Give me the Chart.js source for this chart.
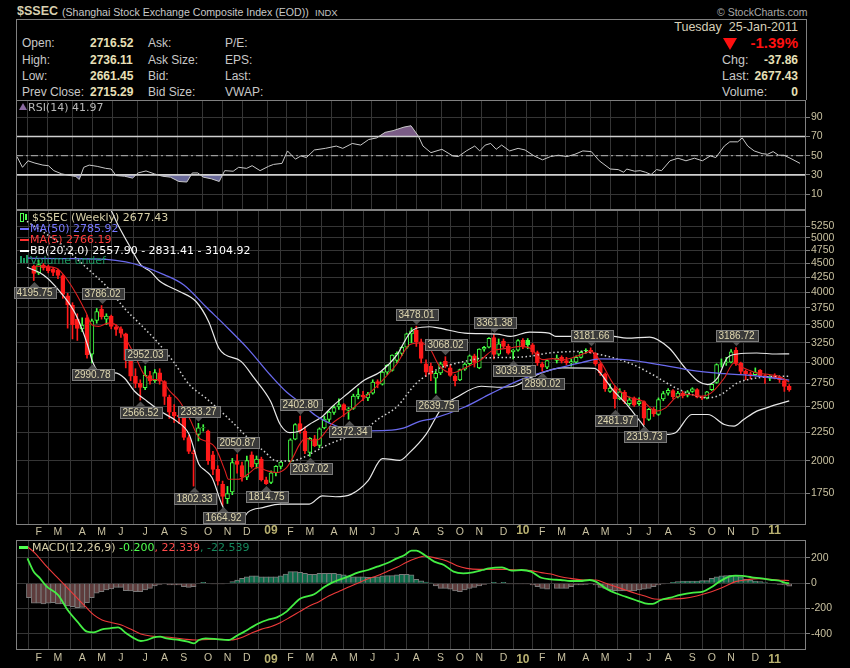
<!DOCTYPE html>
<html>
<head>
<meta charset="utf-8">
<script src="https://cdn.jsdelivr.net/npm/chart.js@4.4.0/dist/chart.umd.min.js"></script>
<style>
  body { margin:0; background:#000; width:850px; height:668px; overflow:hidden; position:relative;
         font-family:'Liberation Sans', Arial, sans-serif; }
  canvas { position:absolute; left:0; }
  .t { position:absolute; white-space:nowrap; line-height:14px; }
  .lbl { color:#c8c8c8; font-size:12px; }
  .val { color:#e8e0b8; font-size:12px; font-weight:bold; }
  .lg { position:absolute; white-space:nowrap; font-family:'DejaVu Sans', sans-serif; font-size:11px; line-height:11px; }
  #box { position:absolute; left:16px; top:19px; width:789px; height:80px; border:1px solid #808080; border-bottom:none; }
</style>
</head>
<body>
<div id="box"></div>
<div class="t" style="left:17px;top:4px;color:#d8d0b0;font-size:12.5px;font-weight:bold;">$SSEC</div>
<div class="t" style="left:62px;top:5px;color:#c8c8c8;font-size:10.6px;">(Shanghai Stock Exchange Composite Index (EOD))</div>
<div class="t" style="left:315px;top:6px;color:#c0c0c0;font-size:9.5px;">INDX</div>
<div class="t" style="left:717px;top:5px;color:#a8a8a8;font-size:10.5px;">© StockCharts.com</div>

<div class="t lbl" style="left:22px;top:36px;">Open:</div>
<div class="t lbl" style="left:22px;top:53px;">High:</div>
<div class="t lbl" style="left:22px;top:69px;">Low:</div>
<div class="t lbl" style="left:22px;top:85px;">Prev Close:</div>
<div class="t val" style="left:90px;top:36px;">2716.52</div>
<div class="t val" style="left:90px;top:53px;">2736.11</div>
<div class="t val" style="left:90px;top:69px;">2661.45</div>
<div class="t val" style="left:90px;top:85px;">2715.29</div>
<div class="t lbl" style="left:148px;top:36px;">Ask:</div>
<div class="t lbl" style="left:148px;top:53px;">Ask Size:</div>
<div class="t lbl" style="left:148px;top:69px;">Bid:</div>
<div class="t lbl" style="left:148px;top:85px;">Bid Size:</div>
<div class="t lbl" style="left:225px;top:36px;">P/E:</div>
<div class="t lbl" style="left:225px;top:53px;">EPS:</div>
<div class="t lbl" style="left:225px;top:69px;">Last:</div>
<div class="t lbl" style="left:225px;top:85px;">VWAP:</div>

<div class="t" style="right:52px;top:20px;color:#d8d0b8;font-size:12.5px;">Tuesday&nbsp; 25-Jan-2011</div>
<div style="position:absolute;left:723px;top:38px;width:0;height:0;border-left:7px solid transparent;border-right:7px solid transparent;border-top:12px solid #ff1010;"></div>
<div class="t" style="right:52px;top:36px;color:#ff1010;font-size:15px;font-weight:bold;">-1.39%</div>
<div class="t lbl" style="left:722px;top:53px;font-size:12.5px;">Chg:</div>
<div class="t lbl" style="left:722px;top:69px;font-size:12.5px;">Last:</div>
<div class="t lbl" style="left:722px;top:85px;font-size:12.5px;">Volume:</div>
<div class="t val" style="right:52px;top:53px;">-37.86</div>
<div class="t val" style="right:52px;top:69px;">2677.43</div>
<div class="t val" style="right:52px;top:85px;">0</div>

<canvas id="rsi" width="850" height="110" style="top:100px"></canvas>
<canvas id="main" width="850" height="315" style="top:210px"></canvas>
<canvas id="macd" width="850" height="143" style="top:525px"></canvas>

<div style="position:absolute;left:19px;top:103px;width:0;height:0;border-left:4px solid transparent;border-right:4px solid transparent;border-bottom:7px solid #8a6aa0;"></div>
<div class="lg" style="left:28px;top:102px;color:#b8b8b8;">RSI(14) 41.97</div>

<div style="position:absolute;left:20px;top:213px;width:2px;height:7px;border:1px solid #50ff50;"></div>
<div style="position:absolute;left:25px;top:214px;width:2px;height:6px;background:#50ff50;"></div>
<div class="lg" style="left:32px;top:212px;color:#d8d0a8;">$SSEC (Weekly) 2677.43</div>
<div style="position:absolute;left:20px;top:228px;width:9px;height:2px;background:#7070ff;"></div>
<div class="lg" style="left:30px;top:223px;color:#7777ff;">MA(50) 2785.92</div>
<div style="position:absolute;left:20px;top:239px;width:9px;height:2px;background:#ff3030;"></div>
<div class="lg" style="left:30px;top:234px;color:#ff3a3a;">MA(5) 2766.19</div>
<div style="position:absolute;left:20px;top:250px;width:9px;height:2px;background:#ffffff;"></div>
<div class="lg" style="left:30px;top:245px;color:#ffffff;">BB(20,2.0) 2557.90 - 2831.41 - 3104.92</div>
<div style="position:absolute;left:20px;top:256px;width:2px;height:7px;background:#1a9a60;"></div>
<div style="position:absolute;left:23px;top:258px;width:2px;height:5px;background:#1a9a60;"></div>
<div style="position:absolute;left:26px;top:255px;width:2px;height:8px;background:#1a9a60;"></div>
<div class="lg" style="left:30px;top:255px;color:#1a9a60;">Volume undef</div>

<div style="position:absolute;left:19px;top:546px;width:9px;height:3px;background:#50ff50;"></div>
<div class="lg" style="left:32px;top:542px;color:#d8d0a8;">MACD(12,26,9) <span style="color:#50ff50">-0.200</span><span style="color:#ff4a4a">, 22.339</span><span style="color:#14885c">, -22.539</span></div>

<script>
// ---- weekly candles, index 0 = week of 28-Jan-2008 ----
var OPEN = [4450,4330,4470,4440,4400,4380,4280,3940,3790,3580,3440,3600,3100,3560,3730,3580,3620,3470,3440,3370,
  3010,2830,2750,2700,2840,2780,2870,2770,2600,2440,2410,2390,2200,2060,2230,2290,2260,2050,1930,1815,
  1712,1760,1995,1960,1870,2050,1975,2015,1850,1830,1905,1955,null,1995,2185,2330,2260,2070,2190,2130,
  2290,2370,2440,2495,2520,2460,2480,2605,2620,2590,2640,2770,2740,2880,2900,3020,3110,3190,3370,3420,
  3260,2980,2950,2810,2870,3010,2930,2830,2790,2915,2980,3080,2930,3165,3190,3320,3100,3270,3200,3130,
  3150,3280,3280,3220,3120,2980,2940,null,3020,3060,3020,2990,3000,3060,3150,3150,3110,2980,2860,2660,
  2690,2580,2650,2530,2590,2530,2550,2370,2470,2420,2580,2640,2670,2600,2640,2620,2660,2680,2600,2590,
  2680,2760,2980,2995,3000,3150,2990,2890,2860,2850,2905,2840,2810,2840,2820,2780,2716.52];
var HIGH = [4470,4560,4500,4470,4430,4400,4300,3980,3830,3660,3600,3640,3580,3740,3786.02,3660,3640,3500,3470,3380,
  3050,2920,2790,2952.03,2890,2910,2920,2780,2620,2520,2450,2400,2220,2090,2333.27,2320,2270,2080,1960,1840,
  1800,2020,2050.87,1990,2040,2075,2040,2030,1870,1920,1960,1995,null,2190,2330,2402.80,2300,2200,2220,2290,
  2400,2450,2510,2580,2530,2490,2630,2690,2660,2650,2790,2790,2890,2970,3090,3130,3200,3380,3455,3478.01,
  3300,3030,2990,2890,3000,3068.02,2970,2850,2915,2990,3090,3100,3170,3200,3320,3361.38,3300,3300,3230,3160,
  3290,3306,3306,3240,3140,3000,3030,null,3090,3080,3060,3040,3080,3140,3170,3181.66,3120,2990,2870,2740,
  2720,2690,2670,2600,2600,2590,2560,2480,2490,2590,2660,2690,2680,2660,2660,2670,2700,2690,2610,2660,
  2740,2980,3040,3060,3160,3186.72,3000,2905,2880,2930,2910,2850,2840,2860,2830,2790,2736.11];
var LOW = [4195.75,4300,4380,4330,4280,4230,3900,3450,3300,3280,3400,3050,2990.78,3520,3580,3500,3440,3350,3320,2930,
  2780,2700,2566.52,2680,2740,2760,2740,2520,2380,2340,2330,2180,2060,1802.33,2170,2260,1970,1890,1810,1664.92,
  1678,1740,1900,1840,1850,1940,1940,1840,1814.75,1820,1880,1935,null,1990,2180,2240,2060,2037.02,2120,2110,
  2280,2350,2420,2470,2400,2372.34,2470,2580,2560,2560,2630,2700,2730,2850,2890,2990,3080,3170,3250,3200,
  2990,2830,2780,2639.75,2850,2930,2830,2720,2780,2900,2960,2940,2920,3140,3180,3040,3080,3180,3100,3039.85,
  3140,3170,3170,3100,2960,2890.02,2920,null,2990,2990,2970,2950,2980,3050,3110,3110,2960,2840,2660,2650,
  2481.97,2570,2530,2510,2500,2510,2319.73,2360,2400,2410,2560,2620,2580,2590,2590,2600,2650,2590,2570,2580,
  2670,2750,2940,2960,2990,2960,2850,2790,2800,2840,2830,2750,2780,2800,2760,2660,2661.45];
var CLOSE = [4320,4480,4420,4370,4340,4285,3962,3796,3500,3446,3492,3094,3557,3693,3613,3624,3473,3433,3379,3024,
  2831,2748,2703,2841,2776,2874,2775,2605,2443,2405,2397,2202,2079,2075,2290,2293,2000,1930,1839,1728,
  1747,1986,1970,1871,2002,1950,2015,1850,1821,1904,1954,1990,null,2181,2320,2261,2082,2193,2128,2281,
  2374,2444,2490,2520,2463,2477,2610,2625,2600,2632,2765,2743,2880,2960,3088,3110,3189,3372,3412,3261,
  3046,2880,2860,2865,2980,2950,2840,2779,2911,2976,3080,2996,3164,3187,3308,3096,3235,3200,3113,3154,
  3277,3196,3224,3128,2989,2939,3018,null,3051,3013,2993,3006,3059,3122,3142,3130,2979,2870,2688,2696,
  2583,2655,2553,2569,2514,2552,2382,2470,2424,2572,2637,2672,2604,2642,2610,2655,2688,2598,2588,2655,
  2738,2971,2975,3005,3129,2985,2888,2860,2842,2880,2830,2820,2830,2810,2791,2715,2677.43];

// ---- overlays: [week index, value] ----
var MA50 = [[-1.4,4600],[0,4597],[8,4590],[15,4578],[19,4530],[22,4460],[27,4295],[31,4120],[35.5,3770],[39.5,3490],
  [44.2,3172],[48.9,2842],[52.2,2653],[54.9,2546],[58.2,2410],[62.2,2312],[64.9,2275],[67.6,2262],[73,2266],[76.3,2287],
  [79.7,2352],[82.3,2377],[89,2495],[94.4,2636],[101.1,2803],[107.8,2921],[113.1,2995],[117.1,3040],[122.5,3027],
  [129.2,2970],[135.9,2900],[142.6,2861],[149.3,2834],[156,2786]];
var MA5 = [[0,4450],[2,4444],[4.7,4413],[6.7,4236],[8.7,3983],[10.7,3694],[12,3498],[13.4,3475],[15.4,3522],[17.4,3475],
  [18.7,3335],[20.8,3094],[22.8,2850],[24.8,2792],[26.1,2792],[28.1,2662],[30.1,2555],[32.1,2387],[34.1,2199],[35.5,2169],
  [37.5,2111],[39.5,1919],[40.2,1854],[42.2,1854],[44.2,1893],[46.2,1945],[48.2,1919],[50.2,1906],[52.2,1945],[53.5,2026],
  [54.9,2140],[56.2,2199],[57.6,2169],[58.9,2184],[60.9,2291],[61.6,2330],[63.6,2400],[65.6,2470],[68.3,2590],[71.6,2760],
  [75,2980],[77.6,3223],[79.6,3245],[81.7,3180],[83.7,2960],[86.3,2870],[89,2929],[92.4,3031],[94.4,3136],[95.7,3158],
  [98.4,3179],[100.4,3201],[102.4,3179],[105.1,3031],[107.1,3044],[109.1,3031],[111.1,3052],[113.1,3094],[115.1,3136],
  [117.1,3000],[119.8,2736],[122.5,2608],[125.8,2555],[128.5,2453],[130.5,2486],[132.5,2590],[135.2,2626],[137.9,2608],
  [139.9,2644],[142.6,2811],[144.6,2990],[146.6,2929],[149.3,2870],[151.9,2850],[153.9,2830],[156,2766]];
var BB_UP = [[-1.4,6900],[5,6600],[10,6200],[14,5800],[15.7,5650],[17.4,5272],[20,4800],[22.1,4474],[24.1,4353],[26.1,4178],
  [30.1,4010],[33.5,3849],[36.1,3546],[38.2,3179],[39.5,3094],[42.8,3010],[45.5,2811],[48.9,2555],[50.9,2322],[52.9,2245],
  [54.9,2260],[56.9,2322],[59.6,2400],[61.6,2498],[64.9,2640],[68.3,2788],[71.6,2884],[75,3090],[77.6,3378],[79,3448],
  [81.7,3470],[83.7,3450],[89,3381],[95.7,3367],[98.4,3335],[102.4,3395],[106.4,3381],[107.8,3335],[113.1,3335],[115.8,3358],
  [119.8,3335],[122.5,3312],[127.2,3326],[131.2,3179],[134.5,2929],[137.2,2773],[139.2,2736],[141.2,2811],[143.2,3052],
  [145.3,3102],[149.3,3115],[153.3,3102],[156,3105]];
var BB_MID = [[-1.4,5350],[3,5050],[6,4850],[8.5,4620],[11.4,4383],[15.4,4065],[18.7,3745],[22.1,3498],[25.4,3267],[28.8,3010],
  [32.1,2736],[35.5,2590],[38.2,2470],[40.8,2354],[44.2,2199],[47.5,2082],[50.2,1999],[52.9,1999],[55.6,2026],[58.2,2082],
  [60.9,2140],[64.3,2199],[68.3,2270],[71,2370],[75,2498],[79,2750],[83.7,2924],[86.5,2975],[89,3010],[93,3052],
  [99.1,3060],[102.4,3073],[106.4,3115],[109.1,3128],[113.1,3136],[115.8,3110],[119.8,3052],[123.8,2969],[127.8,2850],
  [131.9,2717],[135.9,2626],[139.2,2590],[141.9,2626],[145.3,2754],[149.3,2811],[153.3,2830],[156,2831]];
var BB_LOW = [[-1.4,4430],[2,4294],[5.4,4010],[8.7,3644],[11.1,3223],[12.1,3010],[14.1,2830],[15.4,2811],[16.7,2870],[18.7,2811],
  [20.8,2662],[23.4,2555],[26.1,2453],[29.5,2354],[32.1,2229],[34.1,1972],[35.5,1919],[36.8,1867],[38.8,1674],[39.5,1628],
  [41,1530],[42.2,1530],[44.2,1618],[47.5,1651],[50.9,1674],[56.9,1674],[59.6,1732],[62.3,1725],[65.6,1744],[69,1842],
  [72,2018],[75.6,2004],[77.6,2068],[81,2229],[84.3,2486],[87.7,2608],[92.4,2717],[95.7,2706],[99.1,2717],[102.4,2811],
  [105.8,2889],[109.1,2929],[115.8,2925],[118.5,2754],[119.8,2662],[122.5,2520],[125.2,2354],[127.8,2229],[130.5,2229],
  [132.5,2245],[135.9,2419],[139.2,2419],[142.6,2322],[144.6,2306],[146.6,2370],[149.3,2453],[151.3,2486],[153.3,2520],[156,2558]];

// ---- price tags: [week index, price, text, H/L] ----
var TAGS = [[0,4195.75,'4195.75','L'],[14,3786.02,'3786.02','H'],[12,2990.78,'2990.78','L'],[23,2952.03,'2952.03','H'],
  [22,2566.52,'2566.52','L'],[34,2333.27,'2333.27','H'],[33,1802.33,'1802.33','L'],[39,1664.92,'1664.92','L'],
  [42,2050.87,'2050.87','H'],[48,1814.75,'1814.75','L'],[55,2402.80,'2402.80','H'],[57,2037.02,'2037.02','L'],
  [65,2372.34,'2372.34','L'],[79,3478.01,'3478.01','H'],[83,2639.75,'2639.75','L'],[85,3068.02,'3068.02','H'],
  [95,3361.38,'3361.38','H'],[99,3039.85,'3039.85','L'],[105,2890.02,'2890.02','L'],[115,3181.66,'3181.66','H'],
  [120,2481.97,'2481.97','L'],[126,2319.73,'2319.73','L'],[145,3186.72,'3186.72','H']];

// ---- RSI(14) ----
var RSI = [[-1.2,49],[-0.1,37.9],[1,44.7],[2.4,42.3],[4,40.2],[5.1,39.6],[6.2,34.4],[7.8,31],[9.5,29.3],[10.6,28.3],
  [11.3,25.2],[12.2,37.9],[13.3,40.2],[14.9,38.9],[16.6,36.8],[17.7,36.1],[18.7,29.3],[20.4,28.6],[22,26.6],[23.1,32],
  [24.7,34.1],[26.4,31],[28,28.6],[29.6,27.6],[31.3,23.1],[32.9,22.5],[34,32],[35.1,32],[36.2,27.6],[37.8,25.9],
  [39.4,23.1],[40.5,34.4],[42.2,33.8],[43.3,37.9],[44.9,36.8],[46,39.6],[47.6,34.4],[49.3,38.9],[50.3,40.9],[52,42],
  [53.1,55],[54.7,46.4],[55.8,49.8],[56.9,48.1],[58.5,56],[60.7,57.7],[62.9,60.1],[64.2,57.7],[66.1,62.8],[67.8,61.1],
  [69.4,66.9],[71,68.6],[72.7,74.4],[74.3,76.2],[76.5,79.9],[77.9,81.3],[79.4,70.3],[80.3,60.1],[81.9,53.2],[84.1,56.7],
  [86.3,49.8],[87.4,49.1],[89,55],[90.7,60.1],[91.7,55],[92.8,61.1],[93.9,62.8],[95,56.7],[96.1,61.1],[97.7,55],
  [99.4,57.7],[100.8,56],[102.6,49.8],[104.3,45.7],[105.9,49.1],[107.5,50.5],[109.2,49.1],[110.8,51.5],[112.4,55],[114.1,54.3],
  [115.7,44.7],[117.9,36.1],[119.5,35.5],[120.6,32.7],[121.2,36.1],[122.8,33.8],[123.9,34.4],[125,32.7],[126.1,30.3],[127.2,35.5],
  [128.2,34.4],[129.9,44.7],[131.5,47.4],[133.1,44.7],[134.8,47.4],[136.4,44.7],[138,49.8],[139.1,48.1],[140.8,60.1],[141.9,64.5],
  [143.5,64.5],[144.4,68.6],[145.5,60.1],[146.8,55],[148.4,52.2],[149.5,51.5],[150.6,54.3],[151.7,50.5],[152.8,50.5],[154.4,46.4],[156,41.97]];
var RSI_LEVELS = [70, 50, 30];

// ---- MACD(12,26,9) ----
var MACD = [[-1.3,197],[0,92],[1.3,39],[2.7,-27],[5,-92],[7,-211],[9,-303],[11,-382],[12.4,-387],[14.1,-364],[15.7,-356],
  [17.4,-348],[19.1,-395],[20.4,-427],[22.1,-456],[23.4,-448],[24.8,-427],[26.1,-422],[27.4,-435],[30.1,-448],[31.8,-461],
  [33.1,-474],[34.1,-448],[35.5,-435],[38.2,-443],[40.2,-448],[42.2,-408],[43.5,-382],[44.9,-350],[46.5,-316],[48.2,-290],
  [50.2,-269],[52.2,-224],[53.6,-171],[54.9,-124],[56.2,-106],[57.9,-87],[59.9,-32],[61.6,5],[62.9,26],[64.9,52],[66.9,84],
  [69,105],[70.9,131],[72.9,158],[75,197],[76.6,224],[78,258],[79,258],[80.7,224],[82.7,171],[84.7,145],[86.7,92],[88.7,79],
  [90.7,87],[92.7,105],[94,118],[96.7,126],[98.7,100],[100.7,105],[102.7,92],[104.8,44],[106.8,31],[108.8,26],[110.8,18],
  [112.8,18],[114.8,26],[116.1,13],[118.1,-40],[120.2,-79],[122.2,-106],[124.2,-132],[126.2,-158],[127.8,-163],[129.5,-132],
  [131.5,-113],[133.5,-92],[136.2,-74],[138.2,-66],[139.9,-32],[141.6,13],[143.6,52],[144.9,60],[146.3,58],[148.3,47],
  [150.3,39],[152.3,26],[153.9,21],[155,5],[156,-0.2]];
var SIGNAL = [[-1.3,290],[0.3,237],[2.7,131],[4.7,52],[6.7,-27],[8.7,-106],[10.7,-185],[12.4,-250],[14.1,-290],[16.1,-311],
  [18.1,-329],[20.1,-364],[22.1,-400],[24.1,-416],[26.1,-422],[28.8,-430],[31.5,-443],[33.5,-448],[36.1,-443],[38.8,-443],
  [40.8,-448],[42.8,-430],[44.9,-395],[46.9,-364],[48.9,-343],[50.9,-311],[52.9,-269],[54.9,-224],[56.9,-179],[58.9,-145],
  [60.9,-100],[62.9,-66],[64.9,-32],[66.9,0],[68.9,34],[70.9,60],[72.9,92],[75,126],[77,166],[79,197],[80.7,216],[83.3,197],
  [85.3,176],[87.4,139],[89.4,118],[92,110],[97.4,110],[100.1,105],[102.7,100],[104.8,84],[106.8,73],[108.8,52],[110.8,39],
  [113.5,26],[116.1,26],[118.1,0],[120.2,-27],[122.2,-53],[124.2,-79],[126.2,-100],[128.2,-124],[130.2,-127],[132.2,-124],
  [134.2,-119],[136.9,-100],[138.9,-79],[140.9,-53],[142.9,-21],[144.9,13],[146.9,26],[149.6,37],[151.6,34],[153.6,26],[156,22.339]];
var HIST_START = -1;
var HIST = [-113,-158,-158,-163,-158,-153,-163,-163,-179,-185,
  -192,-190,-153,-113,-79,-66,-53,-45,-32,-32,
  -58,-60,-66,-66,-53,-40,-21,-8,-5,-13,
  -13,-13,-27,-32,-27,0,8,0,-5,-5,
  -5,0,13,26,39,52,58,58,52,52,
  52,52,58,73,92,92,87,79,71,71,
  79,79,79,79,73,66,58,52,52,52,
  47,47,52,58,60,60,66,71,71,66,
  31,20,10,
  3,-21,-40,-40,-47,-60,-66,-53,-40,-32,
  -21,-8,0,8,0,8,-5,-5,-5,-5,
  -5,-13,-27,-40,-47,null,-40,-40,-40,-27,
  -13,-13,-8,-5,-13,-32,-40,-53,-58,-60,
  -60,-60,-60,-53,-47,-40,-27,-13,-5,0,
  8,13,18,18,18,18,21,21,39,52,
  58,60,63,60,52,31,26,18,13,5,
  0,-5,-8,-13,-22.539];

// ---- axes ----
var MONTH_IDX = [1,5,10,14,18,23,27,31,36,40,44,49,53,57,62,66,70,75,79,84,88,92,97,101,105,109,114,118,123,127,131,136,140,144,149,153];
var MONTH_LABELS = ['F','M','A','M','J','J','A','S','O','N','D','09','F','M','A','M','J','J','A','S','O','N','D','10','F','M','A','M','J','J','A','S','O','N','D','11'];
var PRICE_TICKS = [1750,2000,2250,2500,2750,3000,3250,3500,3750,4000,4250,4500,4750,5000,5250];
var RSI_TICKS = [10,30,50,70,90];
var MACD_TICKS = [-400,-200,0,200];

var X_MIN = -1.4, X_MAX = 157.2;
var AXIS_FONT = "'Liberation Sans', Arial, sans-serif";
var GRID = '#353535';
var GREEN = '#44ff44', RED = '#ff1a1a';

Chart.defaults.animation = false;
Chart.defaults.responsive = false;
Chart.defaults.plugins.legend.display = false;
Chart.defaults.plugins.tooltip.enabled = false;

function pts(arr) { return arr.map(function (p) { return {x: p[0], y: p[1]}; }); }

function xGrid() {
  return {
    type: 'linear', min: X_MIN, max: X_MAX,
    afterBuildTicks: function (s) { s.ticks = MONTH_IDX.map(function (v) { return {value: v}; }); },
    afterFit: function (s) { s.height = 0; s.paddingLeft = 0; s.paddingRight = 0; },
    grid: { color: GRID, drawTicks: false },
    border: { display: false },
    ticks: { display: false }
  };
}

function yRight(extra) {
  var o = {
    position: 'right',
    afterFit: function (s) { s.width = 44; s.paddingTop = 0; s.paddingBottom = 0; },
    grid: { color: GRID, drawTicks: true, tickLength: 4, tickColor: '#808080' },
    border: { display: false },
    ticks: { color: '#c8c0a0', padding: 1, font: { family: AXIS_FONT, size: 10.5 },
             callback: function (v) { return String(v); } }
  };
  for (var k in extra) o[k] = extra[k];
  return o;
}

// frame around every panel
var frame = {
  id: 'frame',
  afterDraw: function (chart) {
    var a = chart.chartArea, ctx = chart.ctx;
    ctx.save();
    ctx.strokeStyle = '#808080';
    ctx.lineWidth = 1;
    ctx.strokeRect(Math.round(a.left) + 0.5, Math.round(a.top) + 0.5, Math.round(a.right - a.left) - 1, Math.round(a.bottom - a.top) - 1);
    ctx.restore();
  }
};

// high / low price tags
var priceTags = {
  id: 'priceTags',
  afterDatasetsDraw: function (chart) {
    var ctx = chart.ctx, x = chart.scales.x, y = chart.scales.y;
    ctx.save();
    ctx.font = "10px 'Liberation Sans', Arial, sans-serif";
    TAGS.forEach(function (t) {
      var px = Math.round(x.getPixelForValue(t[0])) + 0.5;
      var py = y.getPixelForValue(t[1]);
      var dir = t[3] === 'H' ? -1 : 1;
      var tip = py + dir * 1.5, base = tip + dir * 5;
      var w = Math.round(ctx.measureText(t[2]).width) + 6, h = 11;
      ctx.fillStyle = '#505050';
      ctx.beginPath();
      ctx.moveTo(px, tip); ctx.lineTo(px - 5, base); ctx.lineTo(px + 5, base);
      ctx.closePath(); ctx.fill();
      var bx = Math.round(px - w / 2) + 0.5;
      var by = Math.round(dir < 0 ? base - h : base) + 0.5;
      ctx.fillStyle = '#3a3a3a';
      ctx.fillRect(bx, by, w, h);
      ctx.strokeStyle = '#7c7c7c';
      ctx.lineWidth = 1;
      ctx.strokeRect(bx, by, w, h);
      ctx.fillStyle = '#e0d8b0';
      ctx.textAlign = 'center';
      ctx.textBaseline = 'middle';
      ctx.fillText(t[2], px, by + h / 2 + 0.5);
    });
    ctx.restore();
  }
};

// ---- candle styling ----
var wickData = [], bodyData = [], candleColor = [], bodyFill = [];
var prev = null;
for (var i = 0; i < CLOSE.length; i++) {
  if (CLOSE[i] == null) continue;
  var col = (prev == null || CLOSE[i] < prev) ? RED : GREEN;
  wickData.push({x: i, y: [LOW[i], HIGH[i]]});
  bodyData.push({x: i, y: [OPEN[i], CLOSE[i]]});
  candleColor.push(col);
  bodyFill.push(CLOSE[i] >= OPEN[i] ? '#000000' : col);
  prev = CLOSE[i];
}

function line(data, color, width, order, dash) {
  return { type: 'line', data: pts(data), borderColor: color, borderWidth: width, borderDash: dash || [],
           pointRadius: 0, cubicInterpolationMode: 'monotone', order: order };
}

new Chart(document.getElementById('main'), {
  type: 'bar',
  data: {
    datasets: [
      { data: wickData, backgroundColor: candleColor, barThickness: 1, grouped: false, order: 10 },
      { data: bodyData, backgroundColor: bodyFill, borderColor: candleColor, borderWidth: 1,
        borderSkipped: false, barThickness: 4, grouped: false, order: 9 },
      line(BB_UP, '#e8e8e8', 1.2, 3),
      line(BB_LOW, '#e8e8e8', 1.2, 3),
      line(BB_MID, '#d0d0d0', 1.5, 3, [1.5, 2.5]),
      line(MA50, '#6a6aee', 1.3, 2),
      line(MA5, '#e02020', 1.1, 1)
    ]
  },
  options: {
    layout: { padding: { left: 16, right: 0, top: 0, bottom: 0 } },
    scales: {
      x: xGrid(),
      y: yRight({
        type: 'logarithmic', min: 1536, max: 5607,
        afterBuildTicks: function (s) { s.ticks = PRICE_TICKS.map(function (v) { return {value: v}; }); }
      })
    }
  },
  plugins: [frame, priceTags]
});

// ---- RSI panel ----
var rsiSets = [
  { type: 'line', data: pts(RSI), borderColor: '#c8c8c8', borderWidth: 1, pointRadius: 0, tension: 0, order: 1 },
  { type: 'line', data: pts(RSI), borderWidth: 0, pointRadius: 0, order: 5,
    fill: { target: { value: 70 }, above: '#7a5c86', below: 'rgba(0,0,0,0)' } },
  { type: 'line', data: pts(RSI), borderWidth: 0, pointRadius: 0, order: 5,
    fill: { target: { value: 30 }, above: 'rgba(0,0,0,0)', below: '#686898' } }
];
RSI_LEVELS.forEach(function (v) {
  rsiSets.push({ type: 'line', data: [{x: X_MIN, y: v}, {x: X_MAX, y: v}], pointRadius: 0, order: 3,
    borderColor: v === 50 ? '#b8b8b8' : '#d0d0d0', borderWidth: v === 50 ? 1 : 1.6,
    borderDash: v === 50 ? [7, 3, 2, 3] : [] });
});
new Chart(document.getElementById('rsi'), {
  type: 'line',
  data: { datasets: rsiSets },
  options: {
    layout: { padding: { left: 16, right: 0, top: 0, bottom: 0 } },
    scales: {
      x: xGrid(),
      y: yRight({
        type: 'linear', min: -6.7, max: 108.2,
        afterBuildTicks: function (s) { s.ticks = RSI_TICKS.map(function (v) { return {value: v}; }); }
      })
    }
  },
  plugins: [frame]
});

// ---- MACD panel ----
var histData = [], histFill = [];
HIST.forEach(function (v, k) {
  if (v == null) return;
  histData.push({x: HIST_START + k, y: v});
  histFill.push(v >= 0 ? '#0d6b4a' : '#5e3c3c');
});
function isYear(c) { return !!(c && c.tick && /\d/.test(String(c.tick.label))); }
function monthAxis(pos, h) {
  var ax = xGrid();
  ax.position = pos;
  ax.afterFit = function (s) { s.height = h; s.paddingLeft = 0; s.paddingRight = 0; };
  ax.ticks = {
    display: true, autoSkip: false, maxRotation: 0, padding: 2,
    callback: function (v, idx) { return MONTH_LABELS[idx]; },
    color: function (c) { return isYear(c) ? '#b8b070' : '#c8c0a0'; },
    font: function (c) {
      return isYear(c) ? { family: AXIS_FONT, size: 12, weight: 'bold' } : { family: AXIS_FONT, size: 10.5 };
    }
  };
  if (pos === 'top') ax.grid = { display: false, drawTicks: false };
  return ax;
}
new Chart(document.getElementById('macd'), {
  type: 'bar',
  data: {
    datasets: [
      { data: histData, backgroundColor: histFill, borderColor: '#7a7a7a', borderWidth: 1,
        barThickness: 5, grouped: false, order: 5 },
      { type: 'line', data: pts(SIGNAL), borderColor: '#ee3a3a', borderWidth: 1.1, pointRadius: 0,
        cubicInterpolationMode: 'monotone', order: 2 },
      { type: 'line', data: pts(MACD), borderColor: '#44ee44', borderWidth: 1.8, pointRadius: 0,
        cubicInterpolationMode: 'monotone', order: 1 }
    ]
  },
  options: {
    layout: { padding: { left: 16, right: 0, top: 0, bottom: 0 } },
    scales: {
      x: monthAxis('bottom', 18),
      x2: monthAxis('top', 15),
      y: yRight({
        type: 'linear', min: -527, max: 342,
        afterBuildTicks: function (s) { s.ticks = MACD_TICKS.map(function (v) { return {value: v}; }); }
      })
    }
  },
  plugins: [frame]
});
</script>
</body>
</html>
